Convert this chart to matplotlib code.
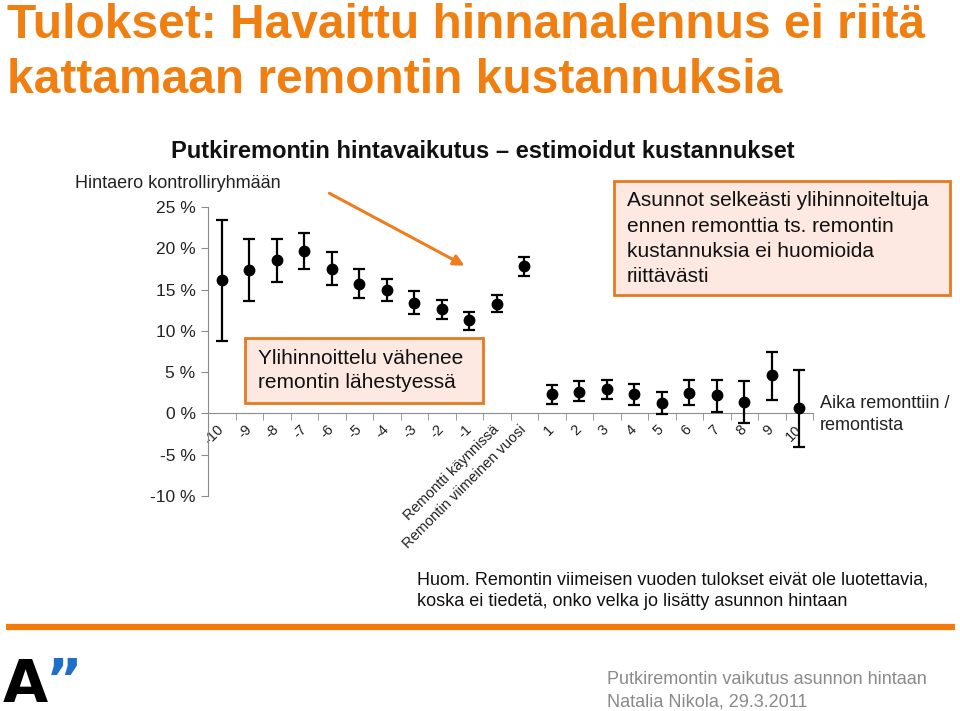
import matplotlib
matplotlib.use("Agg")
import matplotlib.pyplot as plt
from matplotlib.patches import Rectangle, FancyArrowPatch

plt.rcParams['font.family'] = ['Liberation Sans', 'DejaVu Sans']

# ---- data ----
categories = ["-10", "-9", "-8", "-7", "-6", "-5", "-4", "-3", "-2", "-1",
              "Remontti käynnissä", "Remontin viimeinen vuosi",
              "1", "2", "3", "4", "5", "6", "7", "8", "9", "10"]
estimates = [16.2, 17.4, 18.6, 19.7, 17.5, 15.7, 14.9, 13.4, 12.6, 11.3,
             13.3, 17.9,
             2.4, 2.6, 2.9, 2.3, 1.3, 2.5, 2.2, 1.4, 4.6, 0.6]
upper = [23.4, 21.1, 21.1, 21.8, 19.6, 17.5, 16.3, 14.8, 13.7, 12.3,
         14.3, 18.9,
         3.4, 3.9, 4.1, 3.6, 2.6, 4.1, 4.1, 3.9, 7.4, 5.2]
lower = [8.8, 13.6, 15.9, 17.5, 15.5, 14.0, 13.6, 12.1, 11.4, 10.1,
         12.3, 16.7,
         1.2, 1.5, 1.7, 1.0, -0.1, 1.0, 0.2, -1.1, 1.6, -4.1]
yticks = [-10, -5, 0, 5, 10, 15, 20, 25]

title_lines = ["Tulokset: Havaittu hinnanalennus ei riitä", "kattamaan remontin kustannuksia"]
chart_title = "Putkiremontin hintavaikutus – estimoidut kustannukset"
ylabel_text = "Hintaero kontrolliryhmään"
box1_text = "Asunnot selkeästi ylihinnoiteltuja\nennen remonttia ts. remontin\nkustannuksia ei huomioida\nriittävästi"
box2_text = "Ylihinnoittelu vähenee\nremontin lähestyessä"
xlabel_text = "Aika remonttiin /\nremontista"
note_text = "Huom. Remontin viimeisen vuoden tulokset eivät ole luotettavia,\nkoska ei tiedetä, onko velka jo lisätty asunnon hintaan"
footer_text = "Putkiremontin vaikutus asunnon hintaan\nNatalia Nikola, 29.3.2011"

ORANGE = '#F07F12'
W, H = 960, 711
fig = plt.figure(figsize=(W / 100, H / 100), dpi=100)

# ---- main axes ----
ax_l, ax_r, ax_t, ax_b = 208, 813, 207, 496
ax = fig.add_axes([ax_l / W, 1 - ax_b / H, (ax_r - ax_l) / W, (ax_b - ax_t) / H])
ax.patch.set_alpha(0)
x = list(range(len(categories)))
yerr = [[e - l for e, l in zip(estimates, lower)], [u - e for e, u in zip(estimates, upper)]]
ax.errorbar(x, estimates, yerr=yerr, fmt='o', color='black', ms=7.5,
            elinewidth=1.6, capsize=4, capthick=1.6, zorder=3)
ax.set_xlim(-0.5, len(categories) - 0.5)
ax.set_ylim(-10, 25)
for s in ['top', 'right']:
    ax.spines[s].set_visible(False)
ax.spines['left'].set_color('#8c8c8c')
ax.spines['bottom'].set_color('#8c8c8c')
ax.spines['bottom'].set_position(('data', 0))
ax.set_yticks(yticks)
ax.set_yticklabels([f"{v} %" for v in yticks], fontsize=12.5, color='#222222')
ax.tick_params(axis='y', direction='out', length=5, color='#8c8c8c', pad=4)
ax.set_xticks(x)
ax.set_xticklabels(categories, rotation=45, ha='right', va='center',
                   rotation_mode='anchor', fontsize=10.5, color='#222222')
ax.tick_params(axis='x', which='major', length=0, pad=10)
ax.set_xticks([i - 0.5 for i in range(len(categories) + 1)], minor=True)
ax.tick_params(axis='x', which='minor', direction='out', length=5, color='#8c8c8c')

# ---- overlay in pixel coordinates ----
ov = fig.add_axes([0, 0, 1, 1])
ov.set_xlim(0, W)
ov.set_ylim(H, 0)
ov.axis('off')
ov.patch.set_alpha(0)

for i, line in enumerate(title_lines):
    ov.text(7, 38 + i * 55, line, fontsize=34.5, fontweight='bold',
            color=ORANGE, va='baseline', ha='left')
ov.text(483, 151, chart_title, fontsize=17, fontweight='bold', color='#111111',
        ha='center', va='center')
ov.text(75, 184, ylabel_text, fontsize=13, color='#222222', ha='left', va='center')

# box 1
ov.add_patch(Rectangle((614, 181), 336, 114, facecolor='#FDE9E1', edgecolor='#E8791F', lw=2, zorder=2))
for i, line in enumerate(box1_text.split("\n")):
    ov.text(627, 201 + i * 25.3, line, fontsize=15, color='#111111', ha='left', va='center', zorder=3)
# box 2
ov.add_patch(Rectangle((245, 338), 238, 65, facecolor='#FDE9E1', edgecolor='#E8791F', lw=2, zorder=2))
for i, line in enumerate(box2_text.split("\n")):
    ov.text(258, 358 + i * 25, line, fontsize=15, color='#111111', ha='left', va='center', zorder=3)

# arrow
ov.add_patch(FancyArrowPatch((327, 192), (467, 267), arrowstyle='-|>', mutation_scale=16,
                             color='#EF7D1E', lw=2.2, zorder=4))

# axis label
for i, line in enumerate(xlabel_text.split("\n")):
    ov.text(820, 403 + i * 22, line, fontsize=13, color='#222222', ha='left', va='center')

# note
for i, line in enumerate(note_text.split("\n")):
    ov.text(417, 580 + i * 21, line, fontsize=13, color='#111111', ha='left', va='center')

# orange rule
ov.plot([6, 955], [627, 627], color='#F47B0A', lw=4.5, solid_capstyle='butt')

# logo
ov.text(3, 702, "A", fontsize=42, fontweight='bold', color='black', ha='left', va='baseline',
        family=['DejaVu Sans'])
ov.text(46, 656, "”", fontsize=40, fontweight='bold', color='#1E6FC8', ha='left', va='top',
        family=['DejaVu Sans'])

# footer
for i, line in enumerate(footer_text.split("\n")):
    ov.text(607, 680 + i * 22, line, fontsize=13, color='#8a8a8a', ha='left', va='center',
            family=['Liberation Sans Narrow', 'Liberation Sans'])

fig.savefig("out.png", dpi=100)
